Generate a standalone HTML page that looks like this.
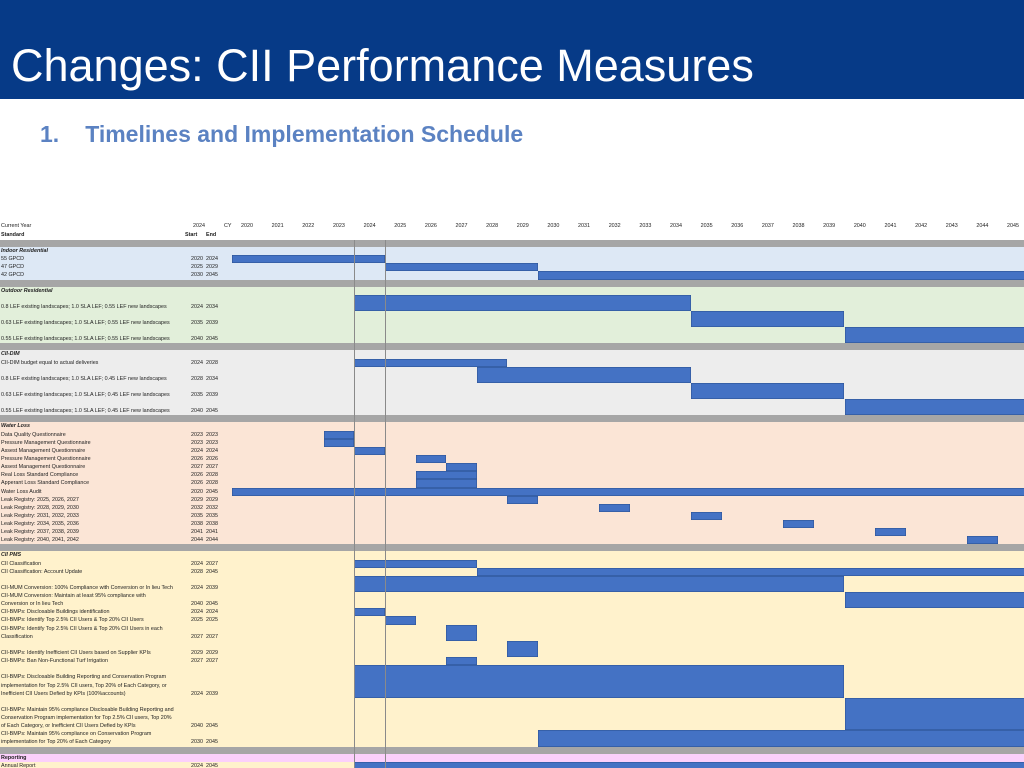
<!DOCTYPE html>
<html><head><meta charset="utf-8">
<style>
body{margin:0;width:1024px;height:768px;overflow:hidden;background:#fff;font-family:"Liberation Sans",sans-serif;position:relative}
#hdr{position:absolute;left:0;top:0;width:1024px;height:99px;background:#063a87}
#title{position:absolute;left:11px;top:36px;color:#fff;font-size:45px;line-height:60px;white-space:nowrap}
#sub{position:absolute;left:40px;top:121px;color:#5b82c2;font-size:23px;font-weight:bold;white-space:nowrap}
#sub span{margin-left:26px}
.t{position:absolute;font-size:5.4px;color:#222;white-space:nowrap;line-height:8.13px}
#chart{position:absolute;left:0;top:0;width:1024px;height:768px;overflow:hidden}
.bar{position:absolute;background:#4472c4;box-shadow:inset 0 0 0 0.6px #2f5597}
</style></head><body>
<div id="hdr"><div id="title">Changes: CII Performance Measures</div></div>
<div id="sub">1.<span>Timelines and Implementation Schedule</span></div>
<div id="chart"></div>
<script>
const years=[2020,2021,2022,2023,2024,2025,2026,2027,2028,2029,2030,2031,2032,2033,2034,2035,2036,2037,2038,2039,2040,2041,2042,2043,2044,2045];
const sections=["Indoor Residential","Outdoor Residential","CII-DIM","Water Loss","CII PMS","Reporting"];
const sectionColors=["#dde8f5","#e2efda","#ededed","#fbe5d6","#fff2cc","#fbd0fb"];
const rowSection=[0,0,0,1,1,1,2,2,2,2,3,3,3,3,3,3,3,3,3,3,3,3,3,3,4,4,4,4,4,4,4,4,4,4,4,4,5];
const rowLabels=[
["55 GPCD"],["47 GPCD"],["42 GPCD"],
["0.8 LEF existing landscapes; 1.0 SLA LEF; 0.55 LEF new landscapes"],["0.63 LEF existing landscapes; 1.0 SLA LEF; 0.55 LEF new landscapes"],["0.55 LEF existing landscapes; 1.0 SLA LEF; 0.55 LEF new landscapes"],
["CII-DIM budget equal to actual deliveries"],["0.8 LEF existing landscapes; 1.0 SLA LEF; 0.45 LEF new landscapes"],["0.63 LEF existing landscapes; 1.0 SLA LEF; 0.45 LEF new landscapes"],["0.55 LEF existing landscapes; 1.0 SLA LEF; 0.45 LEF new landscapes"],
["Data Quality Questionnaire"],["Pressure Management Questionnaire"],["Assest Management Questionnaire"],["Pressure Management Questionnaire"],["Assest Management Questionnaire"],["Real Loss Standard Compliance"],["Apperant Loss Standard Compliance"],["Water Loss Audit"],["Leak Registry: 2025, 2026, 2027"],["Leak Registry: 2028, 2029, 2030"],["Leak Registry: 2031, 2032, 2033"],["Leak Registry: 2034, 2035, 2036"],["Leak Registry: 2037, 2038, 2039"],["Leak Registry: 2040, 2041, 2042"],
["CII Classification"],["CII Classification: Account Update"],["CII-MUM Conversion: 100% Compliance with Conversion  or In lieu Tech"],["CII-MUM Conversion: Maintain at least 95% compliance with","Conversion  or In lieu Tech"],["CII-BMPs: Disclosable Buildings identification"],["CII-BMPs: Identify Top 2.5% CII Users  & Top 20% CII Users"],["CII-BMPs:  Identify Top 2.5% CII Users & Top 20% CII Users in each","Classification"],["CII-BMPs: Identify Inefficient CII Users based on Supplier KPIs"],["CII-BMPs: Ban Non-Functional Turf Irrigation"],
["CII-BMPs: Disclosable Building Reporting and Conservation Program","implementation for Top 2.5% CII users, Top 20% of Each Category, or","Inefficient CII Users Defied by KPIs (100%accounts)"],
["CII-BMPs: Maintain 95% compliance Disclosable Building Reporting and","Conservation Program implementation for Top 2.5% CII users, Top 20%","of Each Category, or Inefficient CII Users Defied by KPIs"],
["CII-BMPs: Maintain 95% compliance on Conservation Program","implementation for Top 20% of Each Category"],
["Annual Report"]];
const rowUnits=[1,1,1,2,2,2,1,2,2,2,1,1,1,1,1,1,1,1,1,1,1,1,1,1,1,1,2,2,1,1,2,2,1,4,4,2,1];
const printedStart=[2020,2025,2030,2024,2035,2040,2024,2028,2035,2040,2023,2023,2024,2026,2027,2026,2026,2020,2029,2032,2035,2038,2041,2044,2024,2028,2024,2040,2024,2025,2027,2029,2027,2024,2040,2030,2024];
const printedEnd=[2024,2029,2045,2034,2039,2045,2028,2034,2039,2045,2023,2023,2024,2026,2027,2028,2028,2045,2029,2032,2035,2038,2041,2044,2027,2045,2039,2045,2024,2025,2027,2029,2027,2039,2045,2045,2045];
const barStart=[2020,2025,2030,2024,2035,2040,2024,2028,2035,2040,2023,2023,2024,2026,2027,2026,2026,2020,2029,2032,2035,2038,2041,2044,2024,2028,2024,2040,2024,2025,2027,2029,2027,2024,2040,2030,2024];
const barEnd=[2024,2029,2045,2034,2039,2045,2028,2034,2039,2045,2023,2023,2024,2026,2027,2027,2027,2045,2029,2032,2035,2038,2041,2044,2027,2045,2039,2045,2024,2025,2027,2029,2027,2039,2045,2045,2045];

const C=document.getElementById('chart');
const U=8.13, GAP=7, X0=231.7, CW=30.64;
const xs=y=>X0+(y-years[0])*CW;
function box(x,y,w,h,bg,name){const d=document.createElement('div');d.style.cssText=`position:absolute;left:${x}px;top:${y}px;width:${w}px;height:${h}px;background:${bg}`;


C.appendChild(d);return d;}
function txt(x,y,s,name,extra){const d=document.createElement('div');d.className='t';d.style.left=x+'px';d.style.top=y+'px';if(extra)d.style.cssText+=extra;d.textContent=s;


C.appendChild(d);return d;}
// header
txt(1,222,"Current Year","current-year-label");
txt(193,222,"2024","current-year-value");
txt(224,222,"CY","cy-label");
years.forEach(y=>{txt(xs(y)+CW/2-6,222,String(y),"year-tick-"+y,"width:12px;text-align:center");});
txt(1,231,"Standard","standard-header","font-weight:bold");
txt(185,231,"Start","start-header","font-weight:bold");
txt(206,231,"End","end-header","font-weight:bold");
let y=240, bars=[];
for(let s=0;s<sections.length;s++){
  box(0,y,1024,GAP,"#a6a6a6","separator-band");y+=GAP;
  const idx=rowSection.map((v,i)=>v===s?i:-1).filter(i=>i>=0);
  let h=U; idx.forEach(i=>h+=rowUnits[i]*U);
  box(0,y,1024,(s===5?U:h)+ (s===5?0:0.5),sectionColors[s],"section-bg-"+sections[s].toLowerCase().replace(/[^a-z]+/g,'-'));
  txt(1,y,sections[s],"section-label",`font-weight:bold;${s<5?'font-style:italic;':''}`);
  y+=U;
  idx.forEach(i=>{
    const rh=rowUnits[i]*U;
    if(s===5) box(0,y,1024,rh+10,"#fff2cc","annual-report-bg");
    const lines=rowLabels[i];
    lines.forEach((l,k)=>txt(1,y+rh-(lines.length-k)*U,l,"row-label"));
    txt(191,y+rh-U,String(printedStart[i]),"row-start-year");
    txt(206,y+rh-U,String(printedEnd[i]),"row-end-year");
    bars.push([i,y,rh]);
    y+=rh;
  });
}
bars.forEach(([i,by,rh])=>{
  const b=document.createElement('div');b.className='bar';
  const x=xs(barStart[i]);const w=xs(barEnd[i]+1)-x;
  b.style.cssText+=`left:${x}px;top:${by}px;width:${w}px;height:${rh}px`;
  
  
  C.appendChild(b);
});
[354,385].forEach(x=>{const d=box(x,240,0.8,528,"#8a8a8a","current-year-line");});
</script>
</body></html>
